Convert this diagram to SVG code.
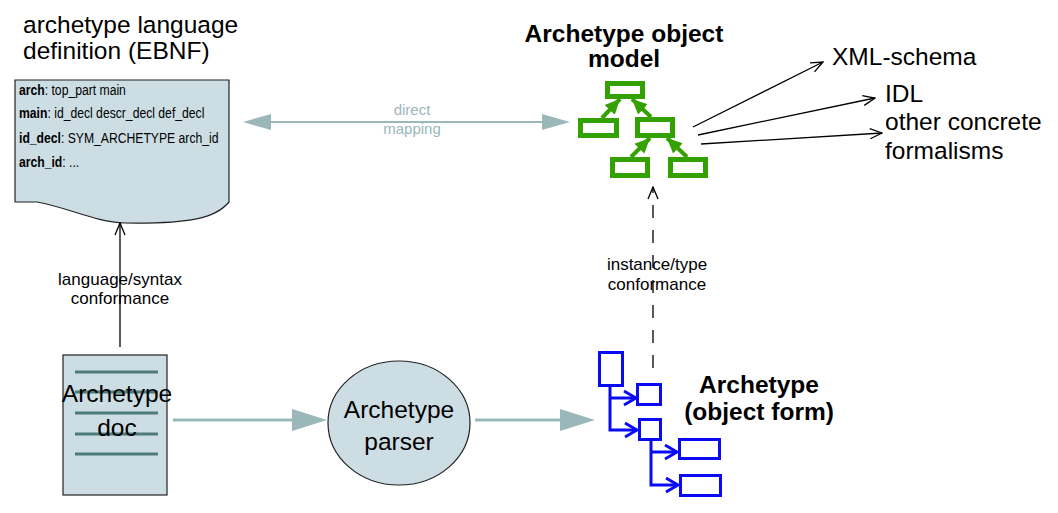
<svg xmlns="http://www.w3.org/2000/svg" width="1058" height="513" viewBox="0 0 1058 513">
<style>
text{font-family:"Liberation Sans",Arial,sans-serif;fill:#000}
.big{font-size:24.5px}
.bold{font-weight:bold;font-size:24.5px}
.lbl{font-size:17px}
.ebnf{font-size:14px}
.b{font-weight:bold}
.map{font-size:15px;fill:#9ab7ba}
.fill{fill:#cddde4;stroke:#222;stroke-width:1.2}
.grey{stroke:#9ab7ba;fill:none}
.greyhead{fill:#9ab7ba}
.green{fill:none;stroke:#33a100;stroke-width:5}
.gline{stroke:#33a100;stroke-width:4;fill:none}
.blue{fill:none;stroke:#0a0af5;stroke-width:3}
.blk{stroke:#000;stroke-width:1.3;fill:none}
.docline{stroke:#4d7b7b;stroke-width:3}
</style>
<defs>
<marker id="ghead" markerUnits="userSpaceOnUse" markerWidth="16" markerHeight="16" viewBox="0 0 16 16" refX="15" refY="8" orient="auto">
<path d="M0,1 L15,8 L0,15 Z" fill="#33a100"/>
</marker>
<marker id="open" markerUnits="userSpaceOnUse" markerWidth="14" markerHeight="12" viewBox="0 0 14 12" refX="13" refY="6" orient="auto">
<path d="M1,1 L13,6 L1,11" fill="none" stroke="#000" stroke-width="1.3"/>
</marker>
<marker id="bopen" markerUnits="userSpaceOnUse" markerWidth="16" markerHeight="18" viewBox="0 0 16 18" refX="14" refY="9" orient="auto">
<path d="M2,2 L14,9 L2,16" fill="none" stroke="#0a0af5" stroke-width="3"/>
</marker>
</defs>

<g id="ebnf-title">
<text class="big" x="23" y="33">archetype language</text>
<text class="big" x="23" y="59">definition (EBNF)</text>
</g>

<g id="ebnf-doc">
<path class="fill" d="M15,80 H229 V202 C216,218 190,224 125,223 C95,222 70,208 37,202 H15 Z"/>
<g transform="translate(19,0) scale(0.87,1)">
<text class="ebnf" x="0" y="95"><tspan class="b">arch</tspan>: top_part main</text>
<text class="ebnf" x="0" y="118"><tspan class="b">main</tspan>: id_decl descr_decl def_decl</text>
<text class="ebnf" x="0" y="143"><tspan class="b">id_decl</tspan>: SYM_ARCHETYPE arch_id</text>
<text class="ebnf" x="0" y="167"><tspan class="b">arch_id</tspan>: ...</text>
</g>
</g>

<g id="aom-title">
<text class="bold" x="624" y="42" text-anchor="middle">Archetype object</text>
<text class="bold" x="624" y="67" text-anchor="middle">model</text>
</g>

<g id="aom-tree">
<rect class="green" x="607.5" y="83.5" width="35" height="13"/>
<rect class="green" x="580.5" y="120.5" width="36" height="15"/>
<rect class="green" x="637.5" y="119.5" width="35" height="16"/>
<rect class="green" x="612.5" y="159.5" width="35" height="16"/>
<rect class="green" x="670.5" y="159.5" width="35" height="16"/>
<line class="gline" x1="602" y1="118" x2="620" y2="99" marker-end="url(#ghead)"/>
<line class="gline" x1="651" y1="117" x2="632" y2="99" marker-end="url(#ghead)"/>
<line class="gline" x1="631" y1="157" x2="650" y2="138" marker-end="url(#ghead)"/>
<line class="gline" x1="687" y1="157" x2="667" y2="138" marker-end="url(#ghead)"/>
</g>

<g id="formalisms">
<text class="big" x="832" y="65">XML-schema</text>
<text class="big" x="885" y="102">IDL</text>
<text class="big" x="885" y="130">other concrete</text>
<text class="big" x="885" y="159">formalisms</text>
</g>

<g id="archetype-doc">
<rect class="fill" x="63" y="355" width="104" height="140"/>
<line class="docline" x1="75" y1="372" x2="158" y2="372"/>
<line class="docline" x1="75" y1="392" x2="158" y2="392"/>
<line class="docline" x1="75" y1="413" x2="158" y2="413"/>
<line class="docline" x1="75" y1="434" x2="158" y2="434"/>
<line class="docline" x1="75" y1="454" x2="158" y2="454"/>
<text class="big" x="117" y="402" text-anchor="middle">Archetype</text>
<text class="big" x="117" y="436" text-anchor="middle">doc</text>
</g>

<g id="parser">
<ellipse class="fill" cx="399" cy="423" rx="71" ry="62"/>
<text class="big" x="399" y="418" text-anchor="middle" font-size="23">Archetype</text>
<text class="big" x="399" y="450" text-anchor="middle" font-size="23">parser</text>
</g>

<g id="object-form">
<rect class="blue" x="599.5" y="352.5" width="23" height="33"/>
<rect class="blue" x="637.5" y="384.5" width="23" height="20"/>
<rect class="blue" x="639.5" y="419.5" width="21" height="20"/>
<rect class="blue" x="679.5" y="439.5" width="40" height="19"/>
<rect class="blue" x="680.5" y="475.5" width="40" height="20"/>
<polyline class="blue" points="610,387 610,430 637,430" marker-end="url(#bopen)"/>
<line class="blue" x1="610" y1="398" x2="636" y2="398" marker-end="url(#bopen)"/>
<polyline class="blue" points="651,441 651,485 678,485" marker-end="url(#bopen)"/>
<line class="blue" x1="651" y1="452" x2="677" y2="452" marker-end="url(#bopen)"/>
<text class="bold" x="759" y="393" text-anchor="middle">Archetype</text>
<text class="bold" x="759" y="420" text-anchor="middle">(object form)</text>
</g>

<g id="connectors">
<line class="grey" stroke-width="2" x1="270" y1="122" x2="543" y2="122"/>
<polygon class="greyhead" points="243,122 271,114 271,130"/>
<polygon class="greyhead" points="570,122 542,114 542,130"/>
<text class="map" x="412" y="115" text-anchor="middle">direct</text>
<text class="map" x="412" y="134" text-anchor="middle">mapping</text>

<line class="grey" stroke-width="3" x1="173" y1="420" x2="293" y2="420"/>
<polygon class="greyhead" points="327,420 292,409 292,431"/>
<line class="grey" stroke-width="3" x1="475" y1="420" x2="561" y2="420"/>
<polygon class="greyhead" points="595,420 560,409 560,431"/>

<line class="blk" x1="120" y1="347" x2="120" y2="223" marker-end="url(#open)"/>
<text class="lbl" x="120" y="285" text-anchor="middle">language/syntax</text>
<text class="lbl" x="120" y="304" text-anchor="middle">conformance</text>

<line class="blk" x1="653" y1="368" x2="653" y2="187" stroke-dasharray="13 12" marker-end="url(#open)"/>
<text class="lbl" x="657" y="270" text-anchor="middle">instance/type</text>
<text class="lbl" x="657" y="290" text-anchor="middle">conformance</text>

<line class="blk" x1="693" y1="127" x2="823" y2="62" marker-end="url(#open)"/>
<line class="blk" x1="698" y1="135" x2="875" y2="98" marker-end="url(#open)"/>
<line class="blk" x1="701" y1="144" x2="882" y2="133" marker-end="url(#open)"/>
</g>
</svg>
